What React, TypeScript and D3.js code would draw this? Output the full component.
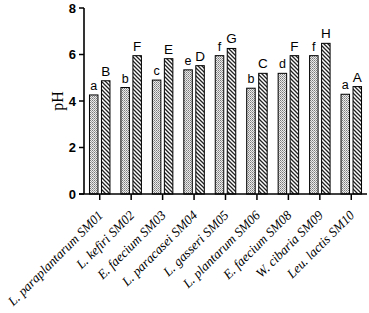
import React from "react";
import * as d3 from "d3";

const categories = [
  "L. paraplantarum SM01",
  "L. kefiri SM02",
  "E. faecium SM03",
  "L. paracasei SM04",
  "L. gasseri SM05",
  "L. plantarum SM06",
  "E. faecium SM08",
  "W. cibaria SM09",
  "Leu. lactis SM10",
];
const seriesA = [4.26, 4.58, 4.9, 5.34, 5.95, 4.55, 5.19, 5.95, 4.29];
const seriesB = [4.87, 5.95, 5.82, 5.52, 6.26, 5.19, 5.95, 6.48, 4.62];
const lettersA = ["a", "b", "c", "e", "f", "b", "d", "f", "a"];
const lettersB = ["B", "F", "E", "D", "G", "C", "F", "H", "A"];
const yTicks = [0, 2, 4, 6, 8];

export default function App() {
  const W = 369, H = 313;
  const x0 = 84, x1 = 367, yTop = 8, yBot = 194;
  const x = d3.scaleBand().domain(categories).range([x0, x1]).padding(0);
  const y = d3.scaleLinear().domain([0, 8]).range([yBot, yTop]);
  const bw = 8.5, gap = 3.5;
  return (
    <svg width={W} height={H} style={{ position: "absolute", left: 0, top: 0 }}>
      <defs>
        <pattern id="dots" width="2" height="2" patternUnits="userSpaceOnUse">
          <rect width="2" height="2" fill="#ececec" />
          <rect x="0" y="0" width="1" height="1" fill="#7a7a7a" />
          <rect x="1" y="1" width="1" height="1" fill="#a0a0a0" />
        </pattern>
        <pattern id="hatch" width="4" height="4" patternUnits="userSpaceOnUse">
          <rect width="4" height="4" fill="#fff" />
          <path d="M-1,-1 L5,5 M-1,3 L1,5 M3,-1 L5,1" stroke="#222" strokeWidth="1.3" />
        </pattern>
      </defs>
      {categories.map((c, i) => {
        const cx = (x(c) as number) + x.bandwidth() / 2;
        const xa = cx - gap / 2 - bw;
        const xb = cx + gap / 2;
        return (
          <g key={c}>
            <rect x={xa} y={y(seriesA[i])} width={bw} height={yBot - y(seriesA[i])} fill="url(#dots)" stroke="#000" strokeWidth={1} />
            <rect x={xb} y={y(seriesB[i])} width={bw} height={yBot - y(seriesB[i])} fill="url(#hatch)" stroke="#000" strokeWidth={1} />
            <text x={xa + bw / 2} y={y(seriesA[i]) - 5} textAnchor="middle" fontFamily="Liberation Sans, Arial, sans-serif" fontSize={12.5} fill="#000">{lettersA[i]}</text>
            <text x={xb + bw / 2} y={y(seriesB[i]) - 5} textAnchor="middle" fontFamily="Liberation Sans, Arial, sans-serif" fontSize={13.5} fill="#000">{lettersB[i]}</text>
            <line x1={cx} x2={cx} y1={yBot} y2={yBot + 6} stroke="#000" strokeWidth={1.5} />
            <text transform={`translate(${cx + 4},${yBot + 22}) rotate(-45)`} textAnchor="end" fontFamily="Liberation Serif, Times New Roman, serif" fontStyle="italic" fontSize={13.2}>{c}</text>
          </g>
        );
      })}
      <line x1={x0} x2={x0} y1={yTop} y2={yBot} stroke="#000" strokeWidth={1.6} />
      <line x1={x0 - 5} x2={x1} y1={yBot} y2={yBot} stroke="#000" strokeWidth={1.6} />
      {yTicks.map((t) => (
        <g key={t}>
          <line x1={x0 - 5} x2={x0} y1={y(t)} y2={y(t)} stroke="#000" strokeWidth={1.5} />
          <text x={x0 - 8} y={y(t) + 4.5} textAnchor="end" fontFamily="Liberation Sans, Arial, sans-serif" fontWeight="bold" fontSize={13}>{t}</text>
        </g>
      ))}
      <text transform={`translate(63,101) rotate(-90)`} textAnchor="middle" fontFamily="Liberation Serif, Times New Roman, serif" fontSize={16}>pH</text>
    </svg>
  );
}
